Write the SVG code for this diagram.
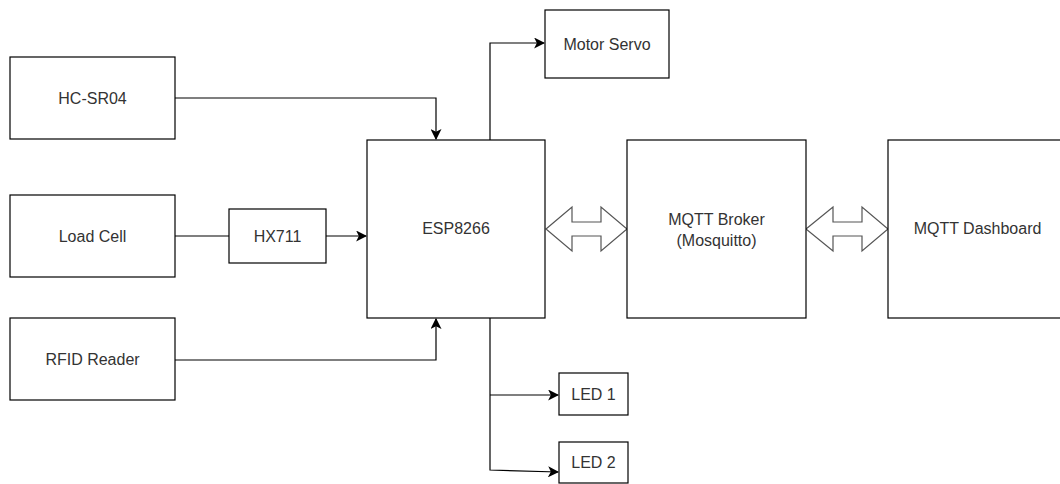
<svg xmlns="http://www.w3.org/2000/svg" width="1060" height="484" viewBox="0 0 1060 484">
<style>
.box{fill:#fff;stroke:#000;stroke-width:1.2}
.lbl{font-family:"Liberation Sans",Arial,sans-serif;font-size:16px;fill:#333;text-anchor:middle;dominant-baseline:central}
.wire{fill:none;stroke:#000;stroke-width:1.2}
.dbl{fill:#fff;stroke:#555;stroke-width:1.2}
</style>
<defs>
<marker id="arr" viewBox="0 0 10 10" refX="9" refY="5" markerWidth="11" markerHeight="11" markerUnits="userSpaceOnUse" orient="auto">
<path d="M0,0 L10,5 L0,10 L2.5,5 Z" fill="#000"/>
</marker>
</defs>
<rect width="1060" height="484" fill="#fff"/>
<g id="connectors">
<path class="wire" d="M175,98 H436 V139" marker-end="url(#arr)"/>
<path class="wire" d="M175,236 H229"/>
<path class="wire" d="M326,236 H366" marker-end="url(#arr)"/>
<path class="wire" d="M175,360 H436 V319" marker-end="url(#arr)"/>
<path class="wire" d="M490,140 V43 H544" marker-end="url(#arr)"/>
<path class="wire" d="M490,318 V470 L558,472" marker-end="url(#arr)"/>
<path class="wire" d="M490,395 H558" marker-end="url(#arr)"/>
<path class="dbl" d="M546,229 L572,207 V222 H601 V207 L627,229 L601,251 V236 H572 V251 Z"/>
<path class="dbl" d="M806,229 L833,207 V222 H862 V207 L888,229 L862,251 V236 H833 V251 Z"/>
</g>
<g id="hcsr04"><rect class="box" x="10" y="57" width="165" height="82"/><text class="lbl" x="92.5" y="98">HC-SR04</text></g>
<g id="loadcell"><rect class="box" x="10" y="195" width="165" height="82"/><text class="lbl" x="92.5" y="236">Load Cell</text></g>
<g id="rfid"><rect class="box" x="10" y="318" width="165" height="82"/><text class="lbl" x="92.5" y="359">RFID Reader</text></g>
<g id="hx711"><rect class="box" x="229" y="209" width="97" height="54"/><text class="lbl" x="277.5" y="236">HX711</text></g>
<g id="esp8266"><rect class="box" x="367" y="140" width="178" height="178"/><text class="lbl" x="456" y="228">ESP8266</text></g>
<g id="motorservo"><rect class="box" x="545" y="10" width="124" height="68"/><text class="lbl" x="607" y="44">Motor Servo</text></g>
<g id="broker"><rect class="box" x="627" y="140" width="179" height="178"/><text class="lbl" x="716.5" y="219">MQTT Broker</text><text class="lbl" x="716.5" y="240">(Mosquitto)</text></g>
<g id="dashboard"><rect class="box" x="888" y="140" width="179" height="178"/><text class="lbl" x="977.5" y="228">MQTT Dashboard</text></g>
<g id="led1"><rect class="box" x="559" y="373" width="69" height="42"/><text class="lbl" x="593.5" y="394">LED 1</text></g>
<g id="led2"><rect class="box" x="559" y="442" width="69" height="41"/><text class="lbl" x="593.5" y="462">LED 2</text></g>
</svg>
